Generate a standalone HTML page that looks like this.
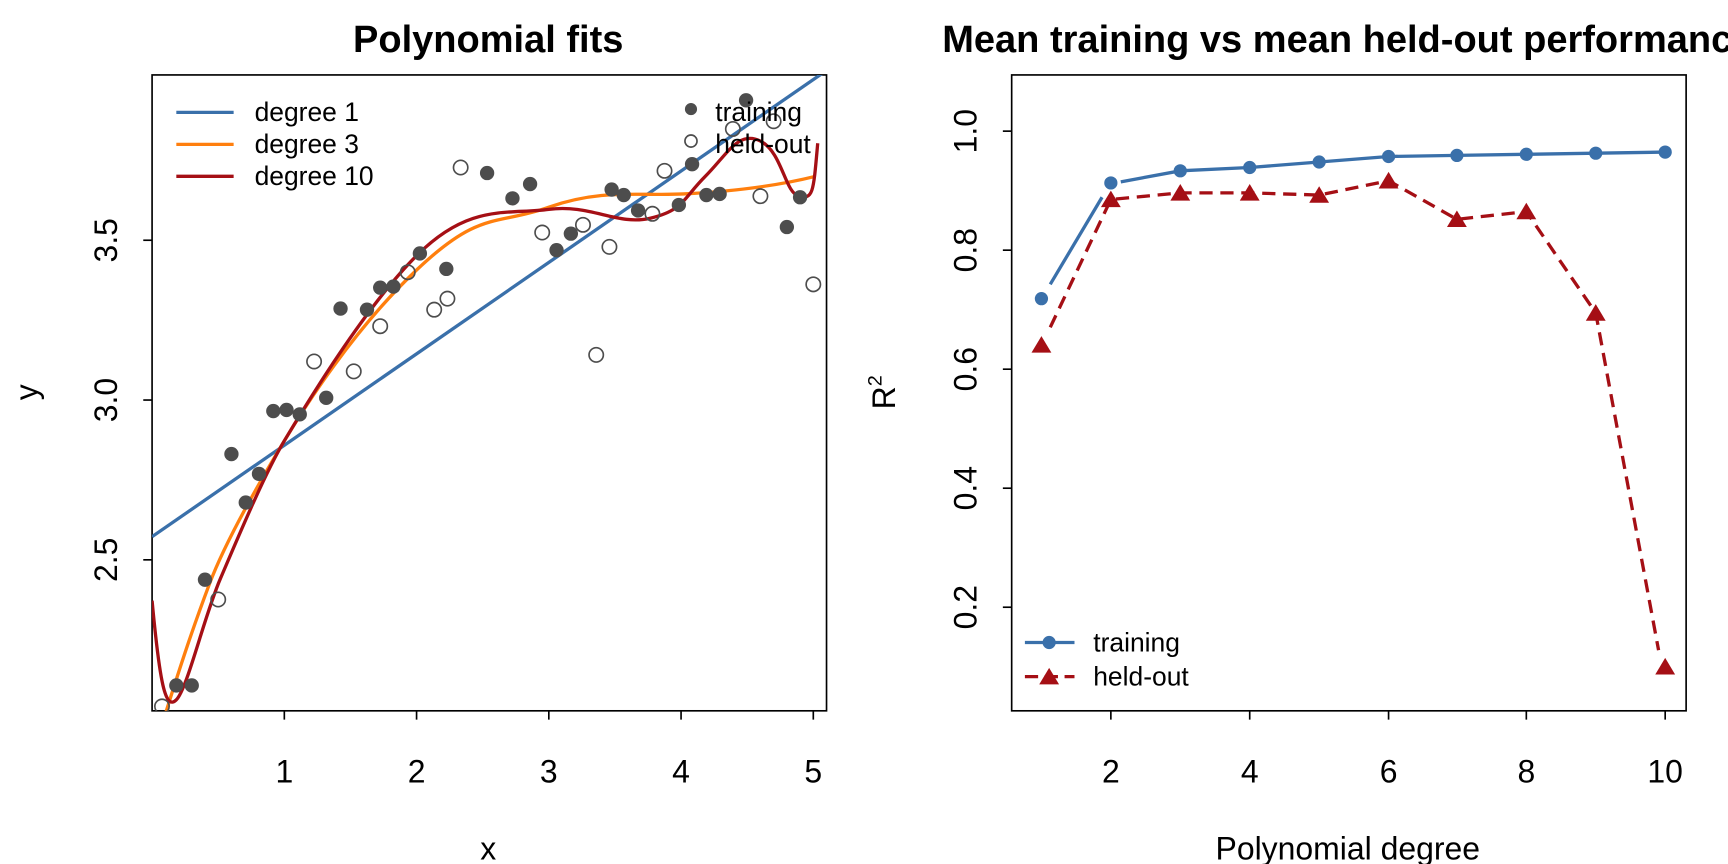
<!DOCTYPE html>
<html><head><meta charset="utf-8"><style>body{margin:0;background:#fff}svg{display:block}text{font-family:"Liberation Sans",Arial,sans-serif}</style></head>
<body>
<svg width="1728" height="864" viewBox="0 0 1568 784" xmlns="http://www.w3.org/2000/svg">
<rect width="1568" height="784" fill="#fff"/>
<defs><clipPath id="c1"><rect x="138" y="68" width="612" height="577"/></clipPath></defs>
<!-- LEFT PLOT -->
<text x="443" y="47" font-size="34.5" font-weight="bold" text-anchor="middle">Polynomial fits</text>
<rect x="138" y="68" width="612" height="577" fill="none" stroke="#000" stroke-width="1.5"/>
<g stroke="#000" stroke-width="1.5">
<line x1="258" y1="645" x2="258" y2="653"/><line x1="378" y1="645" x2="378" y2="653"/><line x1="498" y1="645" x2="498" y2="653"/><line x1="618" y1="645" x2="618" y2="653"/><line x1="738" y1="645" x2="738" y2="653"/>
<line x1="130" y1="508" x2="138" y2="508"/><line x1="130" y1="363" x2="138" y2="363"/><line x1="130" y1="218" x2="138" y2="218"/>
</g>
<g font-size="29" text-anchor="middle">
<text x="258" y="710">1</text><text x="378" y="710">2</text><text x="498" y="710">3</text><text x="618" y="710">4</text><text x="738" y="710">5</text>
<text transform="translate(106,508) rotate(-90)">2.5</text><text transform="translate(106,363) rotate(-90)">3.0</text><text transform="translate(106,218) rotate(-90)">3.5</text>
<text x="443" y="780">x</text><text transform="translate(34,356) rotate(-90)">y</text>
</g>
<g clip-path="url(#c1)" fill="none" stroke-width="3">
<line x1="138" y1="487" x2="760" y2="57" stroke="#3a70aa"/>
<path d="M150,648 C165,600 175,570 190,530 S240,430 258,400 S320,300 378,245 S450,205 498,188 S580,178 620,176 S700,170 740,160" stroke="#ff7f0e"/>
<path d="M138,545 C145,620 150,645 160,635 S185,560 200,525 S240,430 258,400 S330,280 378,232 S460,195 498,190 S560,205 590,198 S620,180 640,160 S670,118 690,128 S712,175 725,178 S738,175 742,130" stroke="#a50f15"/>
</g>
<g fill="#4d4d4d" clip-path="url(#c1)">
<circle cx="160" cy="622" r="6.5"/><circle cx="174" cy="622" r="6.5"/><circle cx="186" cy="526" r="6.5"/><circle cx="210" cy="412" r="6.5"/><circle cx="223" cy="456" r="6.5"/><circle cx="235" cy="430" r="6.5"/><circle cx="248" cy="373" r="6.5"/><circle cx="260" cy="372" r="6.5"/><circle cx="272" cy="376" r="6.5"/><circle cx="296" cy="361" r="6.5"/><circle cx="309" cy="280" r="6.5"/><circle cx="333" cy="281" r="6.5"/><circle cx="345" cy="261" r="6.5"/><circle cx="357" cy="260" r="6.5"/><circle cx="381" cy="230" r="6.5"/><circle cx="405" cy="244" r="6.5"/><circle cx="442" cy="157" r="6.5"/><circle cx="465" cy="180" r="6.5"/><circle cx="481" cy="167" r="6.5"/><circle cx="505" cy="227" r="6.5"/><circle cx="518" cy="212" r="6.5"/><circle cx="555" cy="172" r="6.5"/><circle cx="566" cy="177" r="6.5"/><circle cx="579" cy="191" r="6.5"/><circle cx="616" cy="186" r="6.5"/><circle cx="628" cy="149" r="6.5"/><circle cx="641" cy="177" r="6.5"/><circle cx="653" cy="176" r="6.5"/><circle cx="677" cy="91" r="6.5"/><circle cx="714" cy="206" r="6.5"/><circle cx="726" cy="179" r="6.5"/>
</g>
<g fill="none" stroke="#4d4d4d" stroke-width="1.5" clip-path="url(#c1)">
<circle cx="147" cy="641" r="6.5"/><circle cx="198" cy="544" r="6.5"/><circle cx="285" cy="328" r="6.5"/><circle cx="321" cy="337" r="6.5"/><circle cx="345" cy="296" r="6.5"/><circle cx="370" cy="247" r="6.5"/><circle cx="394" cy="281" r="6.5"/><circle cx="406" cy="271" r="6.5"/><circle cx="418" cy="152" r="6.5"/><circle cx="492" cy="211" r="6.5"/><circle cx="529" cy="204" r="6.5"/><circle cx="541" cy="322" r="6.5"/><circle cx="553" cy="224" r="6.5"/><circle cx="592" cy="194" r="6.5"/><circle cx="603" cy="155" r="6.5"/><circle cx="665" cy="117" r="6.5"/><circle cx="690" cy="178" r="6.5"/><circle cx="702" cy="110" r="6.5"/><circle cx="738" cy="258" r="6.5"/>
</g>
<g stroke-width="3"><line x1="160" y1="102" x2="212" y2="102" stroke="#3a70aa"/><line x1="160" y1="131" x2="212" y2="131" stroke="#ff7f0e"/><line x1="160" y1="160" x2="212" y2="160" stroke="#a50f15"/></g>
<g font-size="24"><text x="231" y="110">degree 1</text><text x="231" y="139">degree 3</text><text x="231" y="168">degree 10</text>
<text x="649" y="110">training</text><text x="649" y="139">held-out</text></g>
<circle cx="627" cy="99" r="5.5" fill="#4d4d4d"/><circle cx="627" cy="128" r="5.5" fill="none" stroke="#4d4d4d" stroke-width="1.5"/>

<!-- RIGHT PLOT -->
<text x="855" y="47" font-size="34.5" font-weight="bold">Mean training vs mean held-out performance</text>
<rect x="918" y="68" width="612" height="577" fill="none" stroke="#000" stroke-width="1.5"/>
<g stroke="#000" stroke-width="1.5">
<line x1="1008" y1="645" x2="1008" y2="653"/><line x1="1134" y1="645" x2="1134" y2="653"/><line x1="1260" y1="645" x2="1260" y2="653"/><line x1="1385" y1="645" x2="1385" y2="653"/><line x1="1511" y1="645" x2="1511" y2="653"/>
<line x1="910" y1="551" x2="918" y2="551"/><line x1="910" y1="443" x2="918" y2="443"/><line x1="910" y1="335" x2="918" y2="335"/><line x1="910" y1="227" x2="918" y2="227"/><line x1="910" y1="119" x2="918" y2="119"/>
</g>
<g font-size="29" text-anchor="middle">
<text x="1008" y="710">2</text><text x="1134" y="710">4</text><text x="1260" y="710">6</text><text x="1385" y="710">8</text><text x="1511" y="710">10</text>
<text transform="translate(886,551) rotate(-90)">0.2</text><text transform="translate(886,443) rotate(-90)">0.4</text><text transform="translate(886,335) rotate(-90)">0.6</text><text transform="translate(886,227) rotate(-90)">0.8</text><text transform="translate(886,119) rotate(-90)">1.0</text>
<text x="1223" y="780">Polynomial degree</text>
<text transform="translate(812,356) rotate(-90)">R<tspan font-size="18" dy="-12">2</tspan></text>
</g>
<polyline points="953,258 1000,179" fill="none" stroke="#3a70aa" stroke-width="3"/>
<polyline points="1017,165 1071,155 1134,152 1197,147 1260,142 1322,141 1385,140 1448,139 1511,138" fill="none" stroke="#3a70aa" stroke-width="3"/>
<polyline points="953,297 1008,181 1071,175 1134,175 1197,177 1260,164 1322,199 1385,192 1448,284 1505,590" fill="none" stroke="#a50f15" stroke-width="3" stroke-dasharray="12 7"/>
<g fill="#3a70aa"><circle cx="945" cy="271" r="6"/><circle cx="1008" cy="166" r="6"/><circle cx="1071" cy="155" r="6"/><circle cx="1134" cy="152" r="6"/><circle cx="1197" cy="147" r="6"/><circle cx="1260" cy="142" r="6"/><circle cx="1322" cy="141" r="6"/><circle cx="1385" cy="140" r="6"/><circle cx="1448" cy="139" r="6"/><circle cx="1511" cy="138" r="6"/></g>
<g fill="#a50f15">
<polygon points="945,305 954,320 936,320"/><polygon points="1008,173 1017,188 999,188"/><polygon points="1071,167 1080,182 1062,182"/><polygon points="1134,167 1143,182 1125,182"/><polygon points="1197,169 1206,184 1188,184"/><polygon points="1260,156 1269,171 1251,171"/><polygon points="1322,191 1331,206 1313,206"/><polygon points="1385,184 1394,199 1376,199"/><polygon points="1448,276 1457,291 1439,291"/><polygon points="1511,597 1520,612 1502,612"/>
</g>
<line x1="930" y1="583" x2="975" y2="583" stroke="#3a70aa" stroke-width="3"/><circle cx="952" cy="583" r="6" fill="#3a70aa"/>
<line x1="930" y1="614" x2="975" y2="614" stroke="#a50f15" stroke-width="3" stroke-dasharray="12 6"/><polygon points="952,606 961,621 943,621" fill="#a50f15"/>
<g font-size="24"><text x="992" y="591">training</text><text x="992" y="622">held-out</text></g>
</svg>
</body></html>
